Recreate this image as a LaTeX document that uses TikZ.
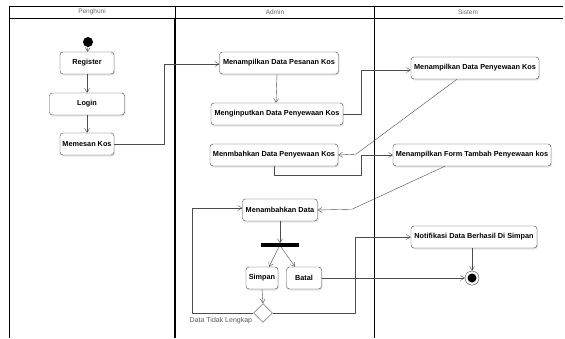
\documentclass[tikz,border=0pt]{standalone}
\usepackage{fontspec}
\setmainfont{Liberation Sans}
\usetikzlibrary{arrows.meta,shapes.geometric,shadows}

\begin{document}
\begin{tikzpicture}[x=1pt, y=-1pt, font=\fontsize{7}{8}\selectfont, line join=round, >={Straight Barb[length=4pt,width=5pt]},
	aksi/.style={draw=black!75, rounded corners=3pt, fill=white, font=\fontsize{7.3}{8}\selectfont\bfseries, minimum height=22pt, inner sep=1pt, drop shadow={opacity=0.2, shadow xshift=1pt, shadow yshift=-1.5pt}},
	alur/.style={draw=black!70, ->},
	judul/.style={text=black!60, font=\fontsize{6.5}{7}\selectfont, inner sep=0pt}]
	\useasboundingbox (0,0) rectangle (565,338);
	\draw (563,6) -- (9,6) (9,18) -- (563,18) (175,6) -- (175,18) (374,6) -- (374,338);
	\draw[line width=1pt] (9,6) -- (9,338);
	\draw[line width=1.8pt] (175,18) -- (175,338);
	\node[judul] (lanePenghuni) at (92,12) {Penghuni};
	\node[judul] (laneAdmin) at (275,12) {Admin};
	\node[judul] (laneSistem) at (468,12) {Sistem};
	
	\node[circle, fill=black, minimum size=10pt, inner sep=0pt] (start) at (88,42) {};
	\node[aksi, minimum width=54pt] (register) at (87,63) {Register};
	\node[aksi, minimum width=75pt] (login) at (87,104) {Login};
	\node[aksi, minimum width=54pt] (memesan) at (87,144) {Memesan Kos};
	
	\node[aksi, minimum width=119pt] (tampilPesanan) at (279,63) {Menampilkan Data Pesanan Kos};
	\node[aksi, minimum width=132pt] (inputSewa) at (277,114) {Menginputkan Data Penyewaan Kos};
	\node[aksi, minimum width=128pt] (tambahSewa) at (274,155) {Menmbahkan Data Penyewaan Kos};
	\node[aksi, minimum width=75pt] (tambahData) at (280,210) {Menambahkan Data};
	\node[fill=black, minimum width=38pt, minimum height=3.5pt, inner sep=0pt] (fork) at (280,245) {};
	\node[aksi, minimum width=32pt] (simpan) at (262,278) {Simpan};
	\node[aksi, minimum width=35pt] (batal) at (304,278) {Batal};
	\node[diamond, draw=black!75, fill=white, minimum size=19pt, inner sep=0pt] (cek) at (263,313) {};
	\node[text=black!65, anchor=north east, inner sep=1pt] (tidakLengkap) at ([yshift=-3pt]cek.west) {Data Tidak Lengkap};
	
	\node[aksi, minimum width=128pt] (tampilSewa) at (475,68) {Menampilkan Data Penyewaan Kos};
	\node[aksi, minimum width=158pt] (formTambah) at (472,155) {Menampilkan Form Tambah Penyewaan kos};
	\node[aksi, minimum width=126pt] (notif) at (474,237) {Notifikasi Data Berhasil Di Simpan};
	\node[circle, draw=black!75, fill=white, minimum size=14pt, inner sep=0pt] (stop) at (472,278) {};
	\fill (stop) circle (4.5pt);
	
	\draw[alur] (start) -- (register);
	\draw[alur] (register) -- (login);
	\draw[alur] (login) -- (memesan);
	\draw[alur] (memesan.east) -- ++(50,0) |- ([yshift=-1pt]tampilPesanan.west);
	\draw[alur] ([xshift=-2pt]tampilPesanan.south) -- ([xshift=-1pt]inputSewa.north);
	\draw[alur] (inputSewa.east) -- ++(18,0) |- ([yshift=-2pt]tampilSewa.west);
	\draw[alur] ([xshift=-18pt]tampilSewa.south) -- ++(-101,75) -- (tambahSewa.east);
	\draw[alur] (tambahSewa.south) |- ++(87,9) |- (formTambah.west);
	\draw[alur] ([xshift=-27pt]formTambah.south) -- ++(-93,43) -- (tambahData.east);
	\draw[alur] (tambahData.south) -- (fork.north);
	\draw[alur] ([xshift=-1pt]fork.south) -- ([xshift=7pt]simpan.north);
	\draw[alur] ([xshift=1pt]fork.south) -- ([xshift=-9pt]batal.north);
	\draw[alur] (simpan.south) -- (cek.north);
	\draw[alur] (cek.west) -- ++(-61,0) |- ([yshift=2pt]tambahData.west);
	\draw[alur] (cek.east) -- ++(82,0) |- (notif.west);
	\draw[alur] (batal.east) -- (stop.west);
	\draw[alur] ([xshift=-2pt]notif.south) -- (stop.north);
\end{tikzpicture}
\end{document}
